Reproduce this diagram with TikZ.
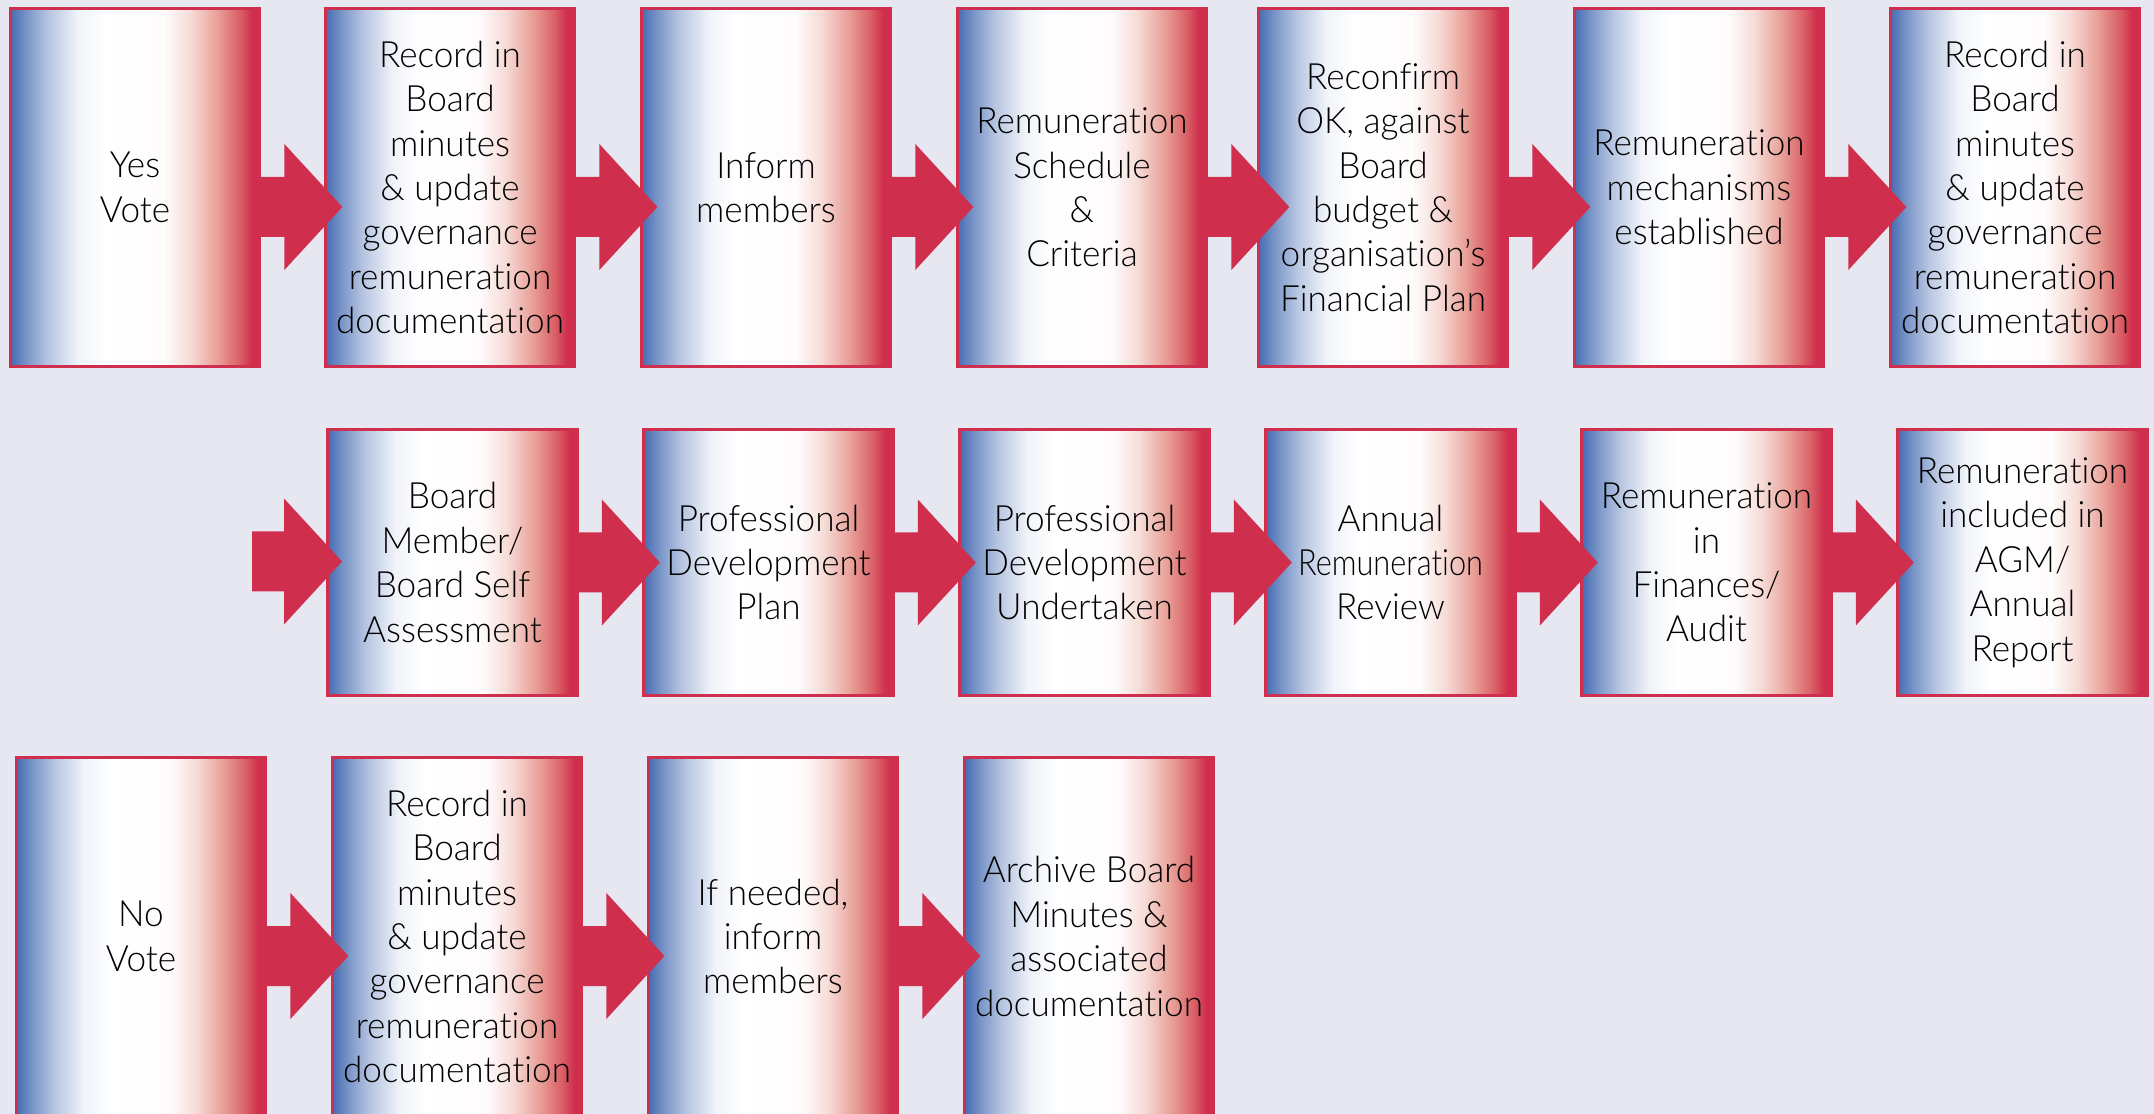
\documentclass[tikz,border=0pt]{standalone}
\usepackage{fontspec}
\setmainfont{Lato}[UprightFont=* Light, FakeStretch=0.97, Ligatures=NoCommon]
\usepackage{graphicx}
\usepackage{tikz}

\definecolor{boxblue}{RGB}{70,108,178}
\definecolor{boxred}{RGB}{207,46,76}
\definecolor{flowred}{RGB}{208,46,77}
\definecolor{pagebg}{RGB}{231,231,241}
\definecolor{blushpink}{RGB}{247,220,215}
\definecolor{salmon}{RGB}{232,160,152}
\definecolor{deepsalmon}{RGB}{217,95,102}

% blue - white - red fill of the step boxes (path spans 25bp..75bp)
\pgfdeclarehorizontalshading{flagfill}{100bp}{%
  color(0bp)=(boxblue); color(25bp)=(boxblue);
  color(28.5bp)=(boxblue!70!white); color(32.5bp)=(boxblue!40!white);
  color(38.5bp)=(boxblue!8!white); color(44bp)=(white);
  color(56bp)=(boxred!2!white); color(61bp)=(blushpink);
  color(66.5bp)=(salmon); color(71bp)=(deepsalmon);
  color(73.5bp)=(boxred); color(75bp)=(boxred); color(100bp)=(boxred)}

\begin{document}
\begin{tikzpicture}[
    x=0.02cm, y=-0.02cm,
    stepbox/.style = {rectangle, draw=boxred, line width=0.065cm, shade, shading=flagfill, inner sep=0pt, align=center, text=black, font=\fontsize{20.6pt}{25.3pt}\selectfont, minimum width=4.99cm},
    tallbox/.style = {stepbox, minimum height=7.16cm},
    shortbox/.style = {stepbox, minimum height=5.32cm},
    pics/flowarrow/.style = {code={\fill[flowred] (-#1,-30) -- (23,-30) -- (23,-63) -- (81,0) -- (23,63) -- (23,30) -- (-#1,30) -- cycle;}},
    pics/flowarrow/.default = 2
]

% Page
\fill[pagebg] (0,0) rectangle (2154,1114);
\useasboundingbox (0,0) rectangle (2154,1114);
\clip (0,0) rectangle (2154,1114);

% Yes row
\node (yes) [tallbox] at (135, 187.5) {Yes\\Vote};
\node (recyes) [tallbox] at (450, 187.5) {Record in\\Board\\minutes\\\& update\\governance\\remuneration\\documentation};
\node (inform) [tallbox] at (766, 187.5) {Inform\\members};
\node (schedule) [tallbox] at (1082, 187.5) {Remuneration\\Schedule\\\&\\Criteria};
\node (reconfirm) [tallbox] at (1383, 187.5) {Reconfirm\\OK, against\\Board\\budget \&\\organisation’s\\Financial Plan};
\node (mechanism) [tallbox] at (1699, 187.5) {Remuneration\\mechanisms\\established};
\node (recfinal) [tallbox] at (2015, 187.5) {Record in\\Board\\minutes\\\& update\\governance\\remuneration\\documentation};

% Follow-up row
\coordinate (lead) at (261, 561.5);
\node (selfassess) [shortbox] at (452.5, 562.5) {Board\\Member/\\Board Self\\Assessment};
\node (devplan) [shortbox] at (768.5, 562.5) {Professional\\Development\\Plan};
\node (devdone) [shortbox] at (1084.5, 562.5) {Professional\\Development\\Undertaken};
\node (review) [shortbox] at (1390.5, 562.5) {Annual\\\scalebox{0.875}[1]{Remuneration}\\Review};
\node (audit) [shortbox] at (1706.5, 562.5) {Remuneration\\in\\Finances/\\Audit};
\node (agm) [shortbox] at (2022.5, 562.5) {Remuneration\\included in\\AGM/\\Annual\\Report};

% No row
\node (no) [tallbox] at (141, 936.5) {No\\Vote};
\node (recno) [tallbox] at (457, 936.5) {Record in\\Board\\minutes\\\& update\\governance\\remuneration\\documentation};
\node (informno) [tallbox] at (773, 936.5) {If needed,\\inform\\members};
\node (archive) [tallbox] at (1089, 936.5) {Archive Board\\Minutes \&\\associated\\documentation};

% Arrows
\pic at ([shift={(0,19.5)}]yes.east) {flowarrow};
\pic at ([shift={(0,19.5)}]recyes.east) {flowarrow};
\pic at ([shift={(0,19.5)}]inform.east) {flowarrow};
\pic at ([shift={(0,19.5)}]schedule.east) {flowarrow};
\pic at ([shift={(0,19.5)}]reconfirm.east) {flowarrow};
\pic at ([shift={(0,19.5)}]mechanism.east) {flowarrow};

\pic at (lead) {flowarrow=9};
\pic at (selfassess.east) {flowarrow};
\pic at (devplan.east) {flowarrow};
\pic at (devdone.east) {flowarrow};
\pic at (review.east) {flowarrow};
\pic at (audit.east) {flowarrow};

\pic at ([shift={(0,19.5)}]no.east) {flowarrow};
\pic at ([shift={(0,19.5)}]recno.east) {flowarrow};
\pic at ([shift={(0,19.5)}]informno.east) {flowarrow};

\end{tikzpicture}
\end{document}
